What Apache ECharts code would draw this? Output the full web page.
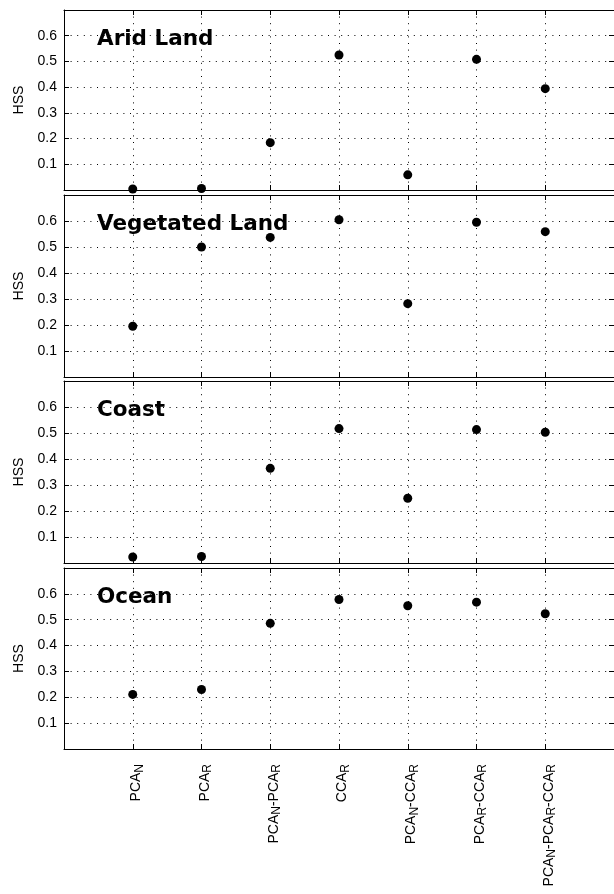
<!DOCTYPE html>
<html>
<head>
<meta charset="utf-8">
<script src="https://cdn.jsdelivr.net/npm/echarts@6/dist/echarts.min.js"></script>
<style>
html,body{margin:0;padding:0;background:#fff;}
#chart{width:614px;height:894px;}
</style>
</head>
<body>
<div id="chart"></div>
<script>
const categories = ['PCA_N', 'PCA_R', 'PCA_N-PCA_R', 'CCA_R', 'PCA_N-CCA_R', 'PCA_R-CCA_R', 'PCA_N-PCA_R-CCA_R'];
const regionNames = ['Arid Land', 'Vegetated Land', 'Coast', 'Ocean'];
const aridLand = [0.004, 0.006, 0.184, 0.525, 0.059, 0.508, 0.394];
const vegetatedLand = [0.195, 0.500, 0.537, 0.605, 0.282, 0.595, 0.559];
const coast = [0.023, 0.025, 0.364, 0.517, 0.249, 0.513, 0.503];
const ocean = [0.211, 0.230, 0.486, 0.578, 0.554, 0.568, 0.523];
const yAxisName = 'HSS';
const yMin = 0, yMax = 0.7, yStep = 0.1;

const seriesValues = [aridLand, vegetatedLand, coast, ocean];
const panels = [
  {top: 10, height: 180},
  {top: 195, height: 182},
  {top: 381, height: 182},
  {top: 568, height: 181}
];
const FONT = '"Liberation Sans", Arial, sans-serif';
const gridLine = {show: true, lineStyle: {color: '#000', width: 1, type: [1, 5.6]}};
const frame = {show: true, onZero: false, lineStyle: {color: '#000', width: 1}};

function richLabel(name) {
  let out = '';
  const parts = name.split(/_([A-Z])/);
  parts.forEach((p, i) => {
    if (p === '') return;
    out += (i % 2 === 1) ? '{s|' + p + '}' : '{n|' + p + '}';
  });
  return out;
}

const grid = [], xAxis = [], yAxis = [], series = [], title = [];
panels.forEach((p, i) => {
  grid.push({left: 64, right: -1, top: p.top, height: p.height, show: false});
  const isLast = i === panels.length - 1;
  xAxis.push({
    type: 'value', gridIndex: i, min: 0, max: categories.length + 1, interval: 1,
    position: 'bottom',
    axisLine: frame,
    axisTick: {show: true, inside: true, length: 5, lineStyle: {color: '#000'}},
    splitLine: gridLine,
    axisLabel: {
      show: isLast, rotate: 90, margin: 15, color: '#000',
      formatter: v => (v >= 1 && v <= categories.length) ? richLabel(categories[v - 1]) : '',
      rich: {
        n: {fontSize: 14, fontFamily: FONT, color: '#000', lineHeight: 15, padding: [4, 0, 4, 0], verticalAlign: 'top'},
        s: {fontSize: 12, fontFamily: FONT, color: '#000', lineHeight: 15, padding: [8, 0, 0, 0], verticalAlign: 'top'}
      }
    }
  });
  xAxis.push({
    type: 'value', gridIndex: i, min: 0, max: categories.length + 1, interval: 1,
    position: 'top',
    axisLine: frame,
    axisTick: {show: true, inside: true, length: 5, lineStyle: {color: '#000'}},
    splitLine: {show: false},
    axisLabel: {show: false}
  });
  yAxis.push({
    type: 'value', gridIndex: i, min: yMin, max: yMax, interval: yStep,
    position: 'left',
    name: yAxisName, nameLocation: 'middle', nameGap: 34,
    nameTextStyle: {fontSize: 14, fontFamily: FONT, color: '#000'},
    axisLine: frame,
    axisTick: {show: true, inside: true, length: 5, lineStyle: {color: '#000'}},
    splitLine: gridLine,
    axisLabel: {
      show: true, margin: 7, fontSize: 14, fontFamily: FONT, color: '#000',
      formatter: v => (v > yMin + 0.01 && v < yMax - 0.01) ? v.toFixed(1) : ''
    }
  });
  yAxis.push({
    type: 'value', gridIndex: i, min: yMin, max: yMax, interval: yStep,
    position: 'right',
    axisLine: frame,
    axisTick: {show: true, inside: true, length: 5, lineStyle: {color: '#000'}},
    splitLine: {show: false},
    axisLabel: {show: false}
  });
  series.push({
    type: 'scatter', xAxisIndex: 2 * i, yAxisIndex: 2 * i,
    symbol: 'circle', symbolSize: 9, clip: false,
    itemStyle: {color: '#000', opacity: 1},
    data: seriesValues[i].map((v, k) => [k + 1, v])
  });
  title.push({
    text: regionNames[i], left: 97, top: p.top + 18, padding: 0,
    textStyle: {fontSize: 21.5, fontWeight: 'bold', fontFamily: '"DejaVu Sans", sans-serif', color: '#000'}
  });
});

const chart = echarts.init(document.getElementById('chart'), null, {renderer: 'canvas'});
chart.setOption({
  animation: false,
  backgroundColor: '#fff',
  title, grid, xAxis, yAxis, series
});
</script>
</body>
</html>
